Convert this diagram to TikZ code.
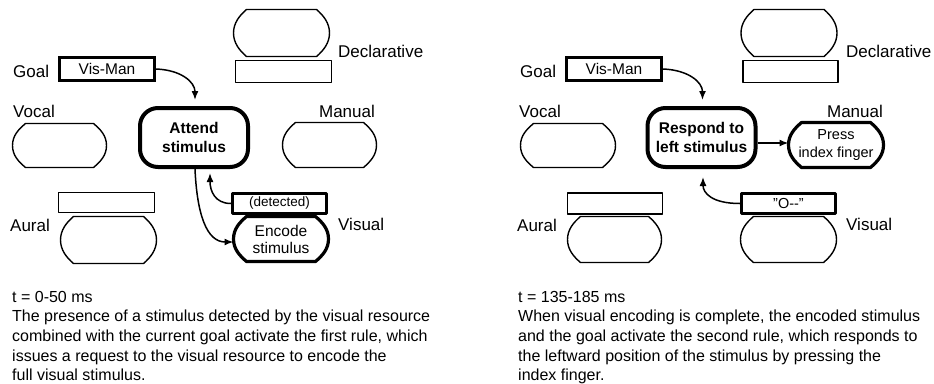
\documentclass[tikz,border=0pt]{standalone}
\usepackage{fontspec}
\setmainfont{Liberation Sans}
\usetikzlibrary{calc,arrows.meta}

% outline of a resource buffer: flat top and bottom, bulging sides
\newcommand\podout[2][]{%
  \draw[#1] ($(#2.north west)+(13,0)$) -- ($(#2.north east)+(-13,0)$)
    .. controls ($(#2.north east)+(-6,6)$) and ($(#2.east)+(0,-10)$) .. (#2.east)
    .. controls ($(#2.east)+(0,10)$) and ($(#2.south east)+(-6,-6)$) .. ($(#2.south east)+(-13,0)$)
    -- ($(#2.south west)+(13,0)$)
    .. controls ($(#2.south west)+(6,-6)$) and ($(#2.west)+(0,10)$) .. (#2.west)
    .. controls ($(#2.west)+(0,-10)$) and ($(#2.north west)+(6,6)$) .. cycle;}

\tikzset{
  x=1pt, y=-1pt,
  lbl/.style={font=\fontsize{17}{20}\selectfont, inner sep=0pt},
  thinline/.style={line width=1.4pt, line join=round},
  thickline/.style={line width=3.2pt, line join=round},
  podn/.style={inner sep=0pt, outer sep=0pt, align=center},
  slot/.style={draw, thinline, inner sep=0pt},
  slotthick/.style={draw, thickline, inner sep=0pt, font=\fontsize{13.5}{16}\selectfont},
  goalbox/.style={draw, line width=3.2pt, inner sep=0pt, minimum width=95, minimum height=23,
    font=\fontsize{15.5}{18}\selectfont},
  rulebox/.style={draw, line width=4pt, rounded corners=18pt, inner sep=0pt,
    minimum width=108, minimum height=59, align=center,
    font=\bfseries\fontsize{15.5}{18.5}\selectfont},
  conn/.style={line width=1.5pt, -{Latex[length=9pt,width=7pt]}},
  caption/.style={anchor=north west, inner sep=0pt, align=left,
    font=\fontsize{16}{19.6}\selectfont}
}

\begin{document}
\begin{tikzpicture}
\useasboundingbox (0,0) rectangle (934,383);

% ---------------- first rule: attend stimulus ----------------
\node[lbl, anchor=west] (goalL) at (13,71) {Goal};
\node[goalbox] (gbL) at (107,69) {Vis-Man};
\node[rulebox] (ruleL) at (194,137.5) {Attend\\stimulus};

\node[podn, minimum width=96, minimum height=47] (decpL) at (281.5,33) {};
\podout[thinline]{decpL}
\node[slot, minimum width=96, minimum height=22] (decsL) at (283.5,71.5) {};
\node[lbl, anchor=west] (declL) at (338,51) {Declarative};

\node[podn, minimum width=94, minimum height=44] (vocpL) at (59.5,145.5) {};
\podout[thinline]{vocpL}
\node[lbl, anchor=west] (vocL) at (13,111) {Vocal};

\node[podn, minimum width=94, minimum height=45] (manpL) at (329.5,145) {};
\podout[thinline]{manpL}
\node[lbl] (manL) at (347,111) {Manual};

\node[slot, minimum width=96, minimum height=20] (aursL) at (106.5,202.5) {};
\node[podn, minimum width=96, minimum height=47] (aurpL) at (108.5,240) {};
\podout[thinline]{aurpL}
\node[lbl, anchor=west] (aurL) at (10,225) {Aural};

\node[slotthick, minimum width=94, minimum height=20] (vissL) at (279.5,203.5) {(detected)};
\node[podn, minimum width=95, minimum height=45, font=\fontsize{15.5}{17}\selectfont] (vispL) at (281,239) {Encode\\stimulus};
\podout[thickline]{vispL}
\node[lbl, anchor=west] (visL) at (338,224) {Visual};

\draw[conn] (gbL.east) .. controls +(25,1) and +(0,-18) .. ($(ruleL.north)+(1,-6)$);
\draw[conn] (vissL.west) .. controls +(-16,0) and +(0,18) .. ($(ruleL.south)+(16,4)$);
\draw[conn] ($(ruleL.south)+(1,0)$) .. controls +(2,45) and +(-27,0) .. ($(vispL.west)+(0,3)$);

\node[caption] (capL) at (12,291) {t = 0-50 ms\\
The presence of a stimulus detected by the visual resource\\
combined with the current goal activate the first rule, which\\
issues a request to the visual resource to encode the\\
full visual stimulus.};

% ---------------- second rule: respond to left stimulus ----------------
\node[lbl, anchor=west] (goalR) at (520,71) {Goal};
\node[goalbox] (gbR) at (614,69) {Vis-Man};
\node[rulebox] (ruleR) at (701.5,137.5) {Respond to\\left stimulus};

\node[podn, minimum width=96, minimum height=47] (decpR) at (789,33) {};
\podout[thinline]{decpR}
\node[slot, minimum width=95, minimum height=22] (decsR) at (790.5,71.5) {};
\node[lbl, anchor=west] (declR) at (846,51) {Declarative};

\node[podn, minimum width=95, minimum height=44] (vocpR) at (568,145.5) {};
\podout[thinline]{vocpR}
\node[lbl, anchor=west] (vocR) at (519,111) {Vocal};

\node[podn, minimum width=95, minimum height=45, font=\fontsize{14.5}{18}\selectfont] (manpR) at (836,145) {Press\\index finger};
\podout[thickline]{manpR}
\node[lbl] (manR) at (855,111) {Manual};

\node[slot, minimum width=95, minimum height=21] (aursR) at (615,203.5) {};
\node[podn, minimum width=94, minimum height=46] (aurpR) at (614.5,239.5) {};
\podout[thinline]{aurpR}
\node[lbl, anchor=west] (aurR) at (517,225) {Aural};

\node[slotthick, minimum width=94, minimum height=20, font=\fontsize{14.5}{16}\selectfont] (vissR) at (788.5,203.5) {"O{-}{-}"};
\node[podn, minimum width=96, minimum height=46] (vispR) at (788.5,239.5) {};
\podout[thinline]{vispR}
\node[lbl, anchor=west] (visR) at (846,224) {Visual};

\draw[conn] (gbR.east) .. controls +(25,1) and +(0,-18) .. ($(ruleR.north)+(1,-6)$);
\draw[conn] ($(ruleR.east)+(0,5.5)$) -- ($(manpR.west)+(0,-2)$);
\draw[conn] (vissR.west) .. controls +(-28,0) and +(0,16) .. ($(ruleR.south)+(1.5,8)$);

\node[caption] (capR) at (518,291) {t = 135-185 ms\\
When visual encoding is complete, the encoded stimulus\\
and the goal activate the second rule, which responds to\\
the leftward position of the stimulus by pressing the\\
index finger.};
\end{tikzpicture}
\end{document}
